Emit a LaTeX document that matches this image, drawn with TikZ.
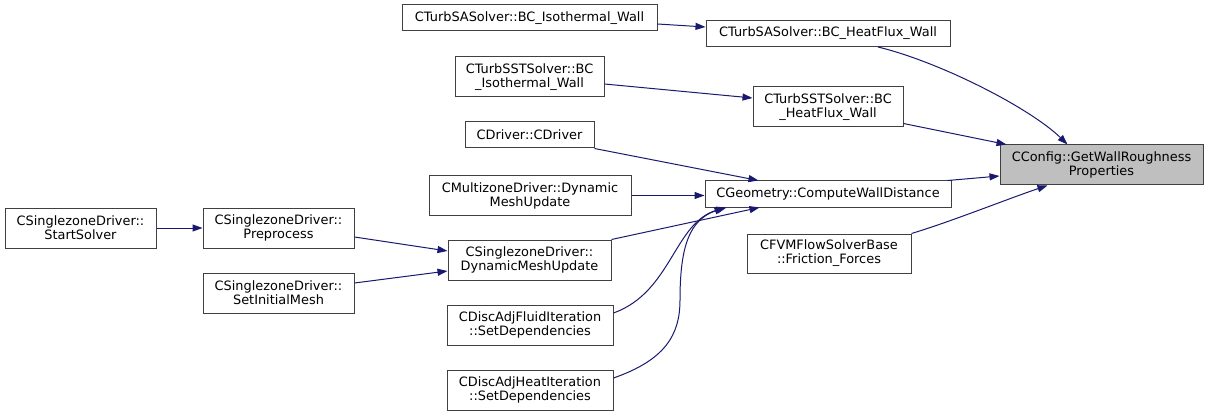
\documentclass[tikz,border=0pt]{standalone}
\usepackage{fontspec}
\setmainfont{DejaVu Sans}
\usetikzlibrary{arrows.meta,calc}
\definecolor{edgec}{HTML}{191970}
\definecolor{boxc}{HTML}{404040}
\definecolor{mainfill}{HTML}{BFBFBF}
\begin{document}
\begin{tikzpicture}[x=1pt,y=-1pt,
  box/.style={draw=boxc, line width=1pt, inner sep=0pt, align=center,
    font=\fontsize{12.9}{14}\selectfont, fill=white},
  one/.style={box, minimum height=26pt},
  two/.style={box, minimum height=40pt},
  edge/.style={draw=edgec, line width=1pt, -{Triangle[length=10pt,width=7pt]}}]
\useasboundingbox (0,0) rectangle (1208,417);
\fill[white] (0,0) rectangle (1208,417);

% nodes
\node[one, minimum width=255pt] (SAiso) at (529.5,18) {CTurbSASolver::BC\_Isothermal\_Wall};
\node[one, minimum width=244pt] (SAheat) at (828,33.5) {CTurbSASolver::BC\_HeatFlux\_Wall};
\node[two, minimum width=149pt] (SSTiso) at (529.5,77) {CTurbSSTSolver::BC\\\_Isothermal\_Wall};
\node[two, minimum width=150pt] (SSTheat) at (828,107) {CTurbSSTSolver::BC\\\_HeatFlux\_Wall};
\node[two, minimum width=203pt, fill=mainfill] (Main) at (1101.5,165) {CConfig::GetWallRoughness\\Properties};
\node[one, minimum width=129pt] (CDriver) at (529.5,135) {CDriver::CDriver};
\node[two, minimum width=202pt, minimum height=39pt] (Multi) at (530,195.5) {CMultizoneDriver::Dynamic\\MeshUpdate};
\node[one, minimum width=246pt] (Geo) at (828,194) {CGeometry::ComputeWallDistance};
\node[two, minimum width=164pt, minimum height=39pt] (CFVM) at (829,253.5) {CFVMFlowSolverBase\\::Friction\_Forces};
\node[two, minimum width=151pt] (SZstart) at (80.5,228) {CSinglezoneDriver::\\StartSolver};
\node[two, minimum width=151pt] (SZpre) at (278.5,228) {CSinglezoneDriver::\\Preprocess};
\node[two, minimum width=151pt] (SZinit) at (278.5,293) {CSinglezoneDriver::\\SetInitialMesh};
\node[two, minimum width=163pt] (SZdyn) at (529.5,260) {CSinglezoneDriver::\\DynamicMeshUpdate};
\node[two, minimum width=166pt] (Fluid) at (530,325) {CDiscAdjFluidIteration\\::SetDependencies};
\node[two, minimum width=166pt] (Heat) at (530,390) {CDiscAdjHeatIteration\\::SetDependencies};

% edges
\draw[edge] ($(SAiso.east)+(0,6)$) -- ($(SAheat.west)+(0,-6.5)$);
\draw[edge] ($(SAheat.south)+(50,0)$) .. controls (940,62) and (1030,108) .. ($(Main.north)+(-34,0)$);
\draw[edge] ($(SSTiso.east)+(0,7)$) -- ($(SSTheat.west)+(0,-9)$);
\draw[edge] ($(SSTheat.south east)+(0,-4)$) -- ($(Main.north west)+(7,0)$);
\draw[edge] (CDriver.south east) -- ($(Geo.north west)+(54,0)$);
\draw[edge] (Multi.east) -- (Multi.east -| Geo.west);
\draw[edge] (SZdyn.north east) -- ($(Geo.south west)+(55,0)$);
\draw[edge] ($(Fluid.east)+(0,-12)$) .. controls (672,292) and (674,222) .. ($(Geo.south west)+(22,0)$);
\draw[edge] ($(Heat.east)+(0,-12)$) .. controls (665,360) and (680,335) .. (680,300)
   .. controls (680,245) and (690,220) .. ($(Geo.south west)+(20,0)$);
\draw[edge] ($(Geo.north east)+(-4,0)$) -- ($(Main.west)+(0,11)$);
\draw[edge] (CFVM.north east) .. controls (950,222) and (1010,198) .. ($(Main.south west)+(48,0)$);
\draw[edge] (SZstart.east) -- (SZpre.west);
\draw[edge] ($(SZpre.east)+(0,9)$) -- ($(SZdyn.west)+(0,-9)$);
\draw[edge] ($(SZinit.east)+(0,-10)$) -- ($(SZdyn.west)+(0,11)$);
\end{tikzpicture}
\end{document}
